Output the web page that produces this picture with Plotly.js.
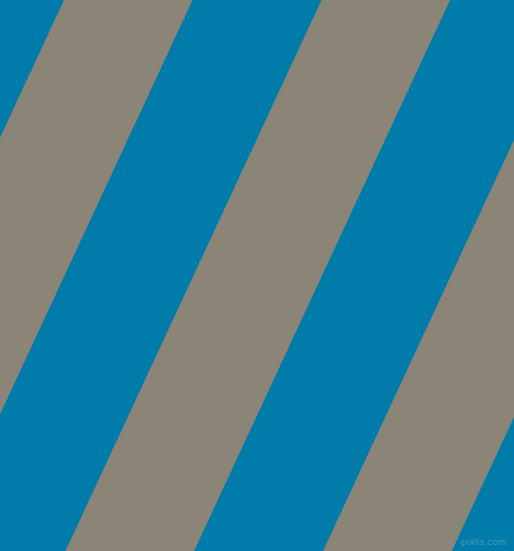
<!DOCTYPE html>
<html><head><meta charset="utf-8">
<script src="https://cdn.plot.ly/plotly-3.0.1.min.js"></script>
<style>html,body{margin:0;padding:0;background:#007baa;}#chart{width:514px;height:551px;}</style>
</head><body><div id="chart"></div>
<script>
// Stripe boundaries: x position where each boundary meets the top edge (px)
var stripeStarts = [-193.5, -64.75, 64, 192.75, 321.5, 450.25, 579, 707.75];
var stripeColors = ['#8b8578', '#007baa', '#8b8578', '#007baa', '#8b8578', '#007baa', '#8b8578'];
var shiftAcross = 256; // horizontal shift of a boundary from top to bottom
var W = 514, H = 551;
var watermark = 'pixlis.com';

var traces = [];
for (var i = 0; i < stripeColors.length; i++) {
  var a = stripeStarts[i], b = stripeStarts[i + 1];
  traces.push({
    type: 'scatter', mode: 'lines', fill: 'toself',
    x: [a, b, b - shiftAcross, a - shiftAcross, a],
    y: [0, 0, H, H, 0],
    line: {width: 0, color: stripeColors[i]},
    fillcolor: stripeColors[i],
    hoverinfo: 'skip', showlegend: false
  });
}

var layout = {
  width: W, height: H,
  margin: {l: 0, r: 0, t: 0, b: 0},
  paper_bgcolor: '#007baa', plot_bgcolor: '#007baa',
  xaxis: {range: [0, W], visible: false, fixedrange: true},
  yaxis: {range: [H, 0], visible: false, fixedrange: true},
  showlegend: false,
  annotations: [{
    text: watermark, x: 508, y: 542, xref: 'x', yref: 'y',
    xanchor: 'right', yanchor: 'middle', showarrow: false,
    font: {family: 'DejaVu Sans, sans-serif', size: 9, color: 'rgba(170,190,200,0.45)'}
  }]
};
Plotly.newPlot('chart', traces, layout, {staticPlot: true, displayModeBar: false});
</script></body></html>
